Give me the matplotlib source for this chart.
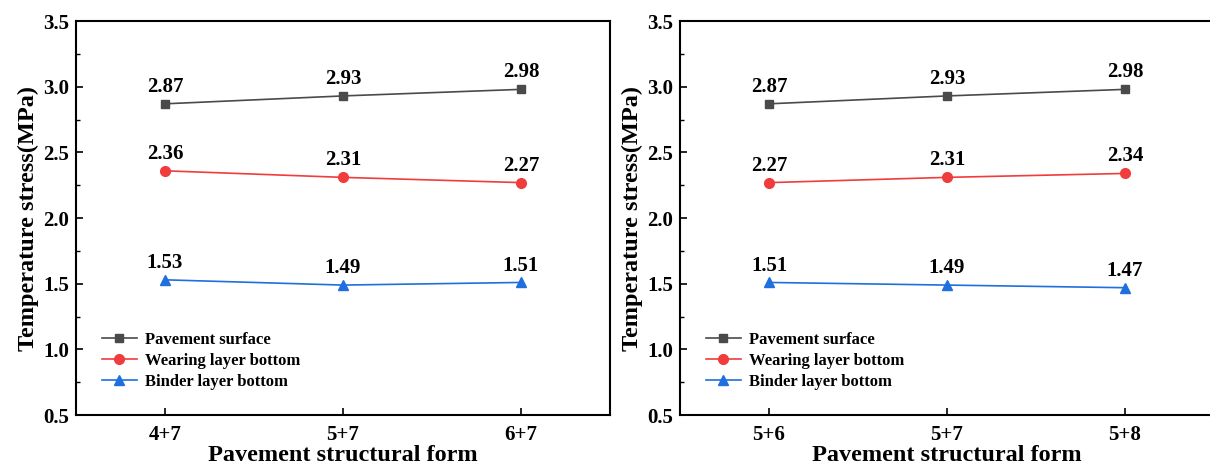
import matplotlib.pyplot as plt
import numpy as np

plt.rcParams['font.family'] = ['Liberation Serif', 'DejaVu Serif']
plt.rcParams['font.weight'] = 'bold'

left_forms = ['4+7', '5+7', '6+7']
left_surface = [2.87, 2.93, 2.98]
left_wearing = [2.36, 2.31, 2.27]
left_binder = [1.53, 1.49, 1.51]

right_forms = ['5+6', '5+7', '5+8']
right_surface = [2.87, 2.93, 2.98]
right_wearing = [2.27, 2.31, 2.34]
right_binder = [1.51, 1.49, 1.47]

series_names = ['Pavement surface', 'Wearing layer bottom', 'Binder layer bottom']
colors = ['#4a4a4a', '#f03c3c', '#1f6fde']
markers = ['s', 'o', '^']
marker_sizes = [6, 7, 7.5]

fig = plt.figure(figsize=(12.1, 4.68), dpi=100)
ax1 = fig.add_axes([0.0628, 0.113, 0.4413, 0.842])
ax2 = fig.add_axes([0.562, 0.113, 0.4413, 0.842])


def draw(ax, forms, surface, wearing, binder):
    x = np.arange(len(forms))
    for vals, name, c, m, ms in zip([surface, wearing, binder], series_names, colors, markers, marker_sizes):
        ax.plot(x, vals, color=c, marker=m, markersize=ms, linewidth=1.2, label=name)
        for xi, v in zip(x, vals):
            ax.annotate(f'{v:.2f}', (xi, v), xytext=(0, 5), textcoords='offset points',
                        ha='center', va='bottom', fontsize=15, fontweight='bold')
    ax.set_xlim(-0.5, 2.5)
    ax.set_ylim(0.5, 3.5)
    ax.set_xticks(x)
    ax.set_xticklabels(forms)
    ax.set_yticks(np.arange(0.5, 3.51, 0.5))
    ax.set_yticks(np.arange(0.75, 3.5, 0.5), minor=True)
    ax.tick_params(axis='both', which='major', direction='in', length=5, width=1.2, labelsize=15)
    ax.tick_params(axis='x', which='major', pad=7)
    ax.tick_params(axis='y', which='major', pad=5)
    ax.tick_params(axis='y', which='minor', direction='in', length=3, width=1.0)
    for s in ax.spines.values():
        s.set_linewidth(1.5)
    for lab in ax.get_xticklabels() + ax.get_yticklabels():
        lab.set_fontweight('bold')
    ax.set_xlabel('Pavement structural form', fontsize=17.5, fontweight='bold', labelpad=0)
    ax.set_ylabel('Temperature stress(MPa)', fontsize=17.5, fontweight='bold', labelpad=3)
    ax.legend(loc='lower left', bbox_to_anchor=(0.02, 0.025), frameon=False,
              prop={'size': 12, 'weight': 'bold'}, handlelength=2.1, handletextpad=0.5,
              labelspacing=0.3)


draw(ax1, left_forms, left_surface, left_wearing, left_binder)
draw(ax2, right_forms, right_surface, right_wearing, right_binder)

fig.savefig('out.png', dpi=100)
